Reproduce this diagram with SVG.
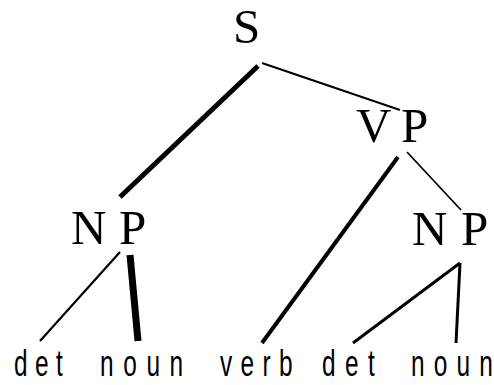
<svg xmlns="http://www.w3.org/2000/svg" width="494" height="385" viewBox="0 0 494 385">
<style>
.cat{font-family:"Liberation Serif","Times New Roman",serif;font-size:49px;fill:#000}
.w{font-family:"Liberation Sans",Arial,sans-serif;font-size:37px;fill:#000}
.e{stroke:#000;fill:none;stroke-linecap:butt}
</style>
<rect width="494" height="385" fill="#fff"/>
<g id="edges">
<line class="e" x1="262" y1="63" x2="400" y2="110" stroke-width="2"/>
<line class="e" x1="258" y1="66" x2="120" y2="197" stroke-width="5"/>
<line class="e" x1="120" y1="252" x2="40" y2="341" stroke-width="2.2"/>
<line class="e" x1="130" y1="255" x2="138" y2="341" stroke-width="7"/>
<line class="e" x1="398" y1="157" x2="262" y2="343" stroke-width="4"/>
<line class="e" x1="407" y1="152" x2="461" y2="210" stroke-width="1.8"/>
<line class="e" x1="460" y1="263" x2="353" y2="343" stroke-width="3"/>
<line class="e" x1="460" y1="263" x2="456" y2="343" stroke-width="3"/>
</g>
<g id="S"><text class="cat" x="233" y="43">S</text></g>
<g id="VP"><text class="cat" x="356" y="142">V</text><text class="cat" x="401" y="142">P</text></g>
<g id="NP1"><text class="cat" x="71" y="244">N</text><text class="cat" x="119" y="244">P</text></g>
<g id="NP2"><text class="cat" x="412" y="245">N</text><text class="cat" x="461" y="245">P</text></g>
<g id="det1"><text class="w" transform="translate(14,376) scale(0.66,1)" textLength="74" lengthAdjust="spacing">det</text></g>
<g id="noun1"><text class="w" transform="translate(100,376) scale(0.66,1)" textLength="126" lengthAdjust="spacing">noun</text></g>
<g id="verb"><text class="w" transform="translate(220,376) scale(0.66,1)" textLength="110" lengthAdjust="spacing">verb</text></g>
<g id="det2"><text class="w" transform="translate(322,376) scale(0.66,1)" textLength="80" lengthAdjust="spacing">det</text></g>
<g id="noun2"><text class="w" transform="translate(411,376) scale(0.66,1)" textLength="124" lengthAdjust="spacing">noun</text></g>
</svg>
